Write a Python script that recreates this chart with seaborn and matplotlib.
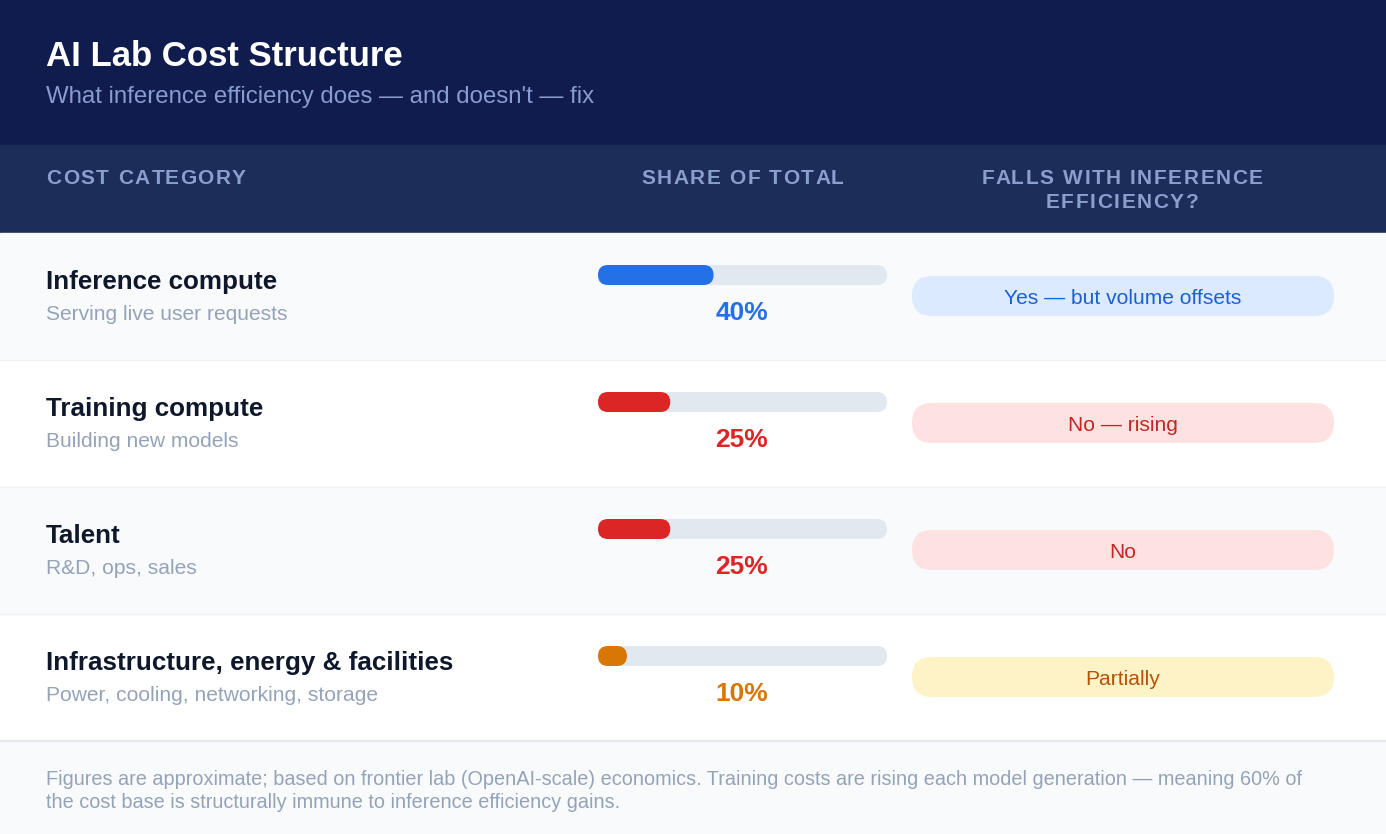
import numpy as np
import pandas as pd
import matplotlib
matplotlib.use("Agg")
import matplotlib.pyplot as plt
import seaborn as sns
from matplotlib.patches import FancyBboxPatch, Rectangle
from matplotlib.transforms import IdentityTransform

# chart data
categories = ["Inference compute", "Training compute", "Talent",
              "Infrastructure, energy & facilities"]
descriptions = ["Serving live user requests", "Building new models",
                "R&D, ops, sales", "Power, cooling, networking, storage"]
shares = [40, 25, 25, 10]
verdicts = ["Yes \u2014 but volume offsets", "No \u2014 rising", "No", "Partially"]

# colours per row
bar_colors = ["#2470e6", "#dc2626", "#dc2626", "#d97706"]
pill_bg = ["#dbeafe", "#fee2e2", "#fee2e2", "#fef3c7"]
pill_fg = ["#1d5fd0", "#c42525", "#c42525", "#b45309"]
row_bg = ["#f8fafc", "#ffffff", "#f8fafc", "#ffffff"]

sns.set_theme(style="white")
plt.rcParams["font.family"] = ["Liberation Sans", "DejaVu Sans"]

W, H = 1386, 834
fig = plt.figure(figsize=(W / 100, H / 100), dpi=100)
ax = fig.add_axes([0, 0, 1, 1])
ax.set_xlim(0, W)
ax.set_ylim(H, 0)
ax.axis("off")
renderer = fig.canvas.get_renderer()


def text_width(s, **kw):
    t = ax.text(0, 0, s, **kw)
    w = t.get_window_extent(renderer).width
    t.remove()
    return w


def spaced_text(x, y, s, spacing=2.0, ha="left", **kw):
    # letter-spaced caps: place each character after the measured prefix
    ref_w = text_width("I", **kw)
    pos = [text_width(s[:k] + "I", **kw) - ref_w + k * spacing if k else 0.0
           for k in range(len(s))]
    total = text_width(s, **kw) + (len(s) - 1) * spacing
    x0 = x - total / 2 if ha == "center" else x
    for k, ch in enumerate(s):
        if ch != " ":
            ax.text(x0 + pos[k], y, ch, ha="left", **kw)


# header bands
ax.add_patch(Rectangle((0, 0), W, 145, color="#0f1c4d", zorder=0))
ax.add_patch(Rectangle((0, 145), W, 88, color="#1c2d5a", zorder=0))
ax.text(46, 66, "AI Lab Cost Structure", color="white", fontsize=25,
        fontweight="bold", va="baseline")
ax.text(46, 103, "What inference efficiency does \u2014 and doesn't \u2014 fix",
        color="#8a9bd0", fontsize=17.3, va="baseline")

hdr = dict(color="#8b9fcf", fontsize=15, fontweight="bold", va="baseline")
spaced_text(46, 184, "COST CATEGORY", spacing=1.6, **hdr)
spaced_text(742, 184, "SHARE OF TOTAL", spacing=1.6, ha="center", **hdr)
spaced_text(1122, 184, "FALLS WITH INFERENCE", spacing=1.6, ha="center", **hdr)
spaced_text(1122, 208, "EFFICIENCY?", spacing=1.6, ha="center", **hdr)

# rows
top0, row_h = 233, 127
for i in range(len(categories)):
    top = top0 + i * row_h
    ax.add_patch(Rectangle((0, top), W, row_h, color=row_bg[i], zorder=0))
    ax.plot([0, W], [top + row_h, top + row_h], color="#eef1f5", lw=1, zorder=1)
    ax.text(46, top + 56, categories[i], color="#0f172a", fontsize=18.7,
            fontweight="bold", va="baseline")
    ax.text(46, top + 87, descriptions[i], color="#94a3b8", fontsize=15.1,
            va="baseline")
    ax.text(742, top + 87, f"{shares[i]}%", color=bar_colors[i], fontsize=19,
            fontweight="bold", ha="center", va="baseline")
    pill = FancyBboxPatch((912, top + 43), 422, 40,
                          boxstyle="round,pad=0,rounding_size=20",
                          fc=pill_bg[i], ec="none", zorder=2)
    ax.add_patch(pill)
    ax.text(1123, top + 71, verdicts[i], color=pill_fg[i], fontsize=15.1,
            ha="center", va="baseline", zorder=3)

# footer
ax.add_patch(Rectangle((0, 741), W, H - 741, color="#f8fafc", zorder=0))
ax.plot([0, W], [741, 741], color="#e2e6ee", lw=1.5, zorder=1)
ax.text(46, 785, "Figures are approximate; based on frontier lab (OpenAI-scale) economics. "
        "Training costs are rising each model generation \u2014 meaning 60% of",
        color="#94a3b8", fontsize=14.3, va="baseline")
ax.text(46, 808, "the cost base is structurally immune to inference efficiency gains.",
        color="#94a3b8", fontsize=14.3, va="baseline")

# share bars via seaborn on their own axes (x = percent, one row per category)
c_first, c_last = top0 + 42, top0 + 42 + 3 * row_h
y_lo = c_first - row_h / 2
y_hi = c_last + row_h / 2
bax = fig.add_axes([598 / W, 1 - y_hi / H, (887 - 598) / W, (y_hi - y_lo) / H])
df = pd.DataFrame({"category": categories, "share": shares})
track = pd.DataFrame({"category": categories, "share": [100] * len(categories)})
sns.barplot(data=track, x="share", y="category", color="#e2e8f0",
            width=20 / row_h, ax=bax, saturation=1)
sns.barplot(data=df, x="share", y="category", hue="category",
            palette=bar_colors, width=20 / row_h, ax=bax, saturation=1,
            legend=False)
bax.set_xlim(0, 100)
bax.set_ylim(len(categories) - 0.5, -0.5)
bax.axis("off")
bax.patch.set_alpha(0)

# round the bar ends: replace each rectangle with a pill in pixel space
for p in list(bax.patches):
    bb = p.get_window_extent()
    if bb.width <= 0:
        continue
    r = bb.height / 2
    fig.add_artist(FancyBboxPatch((bb.x0, bb.y0), bb.width, bb.height,
                                  boxstyle=f"round,pad=0,rounding_size={r}",
                                  fc=p.get_facecolor(), ec="none",
                                  transform=IdentityTransform(), zorder=3))
    p.set_visible(False)

fig.savefig("out.png", dpi=100)
